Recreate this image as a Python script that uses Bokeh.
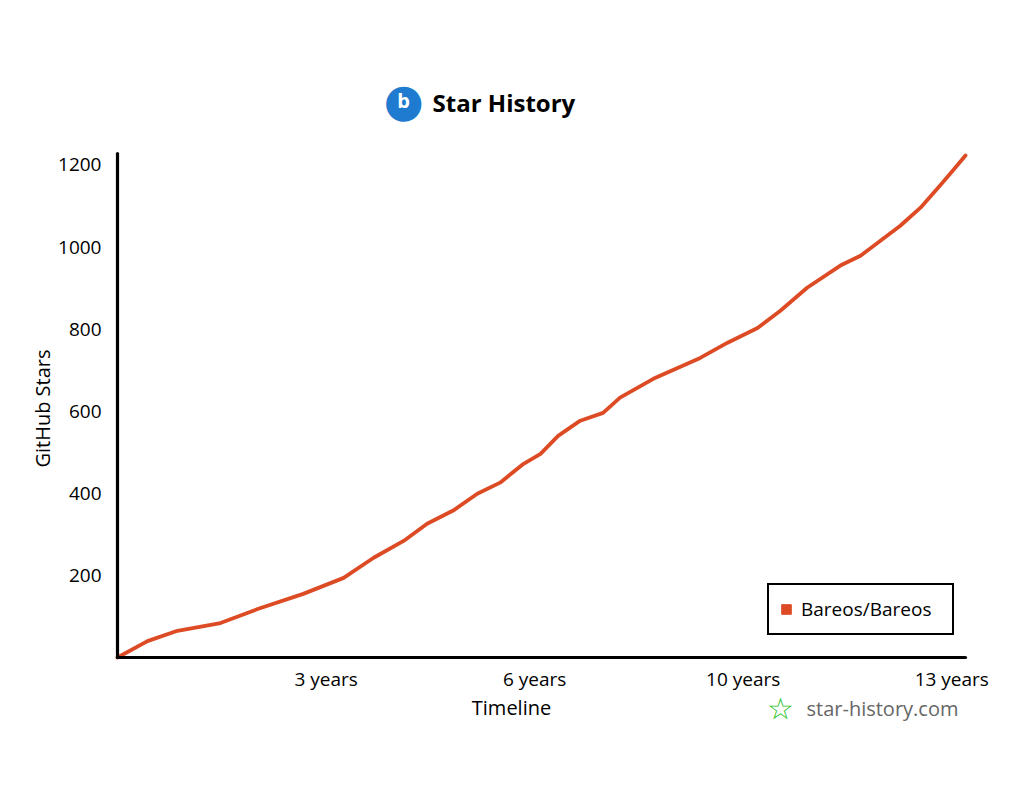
import math
from bokeh.plotting import figure
from bokeh.models import Range1d, FixedTicker, Label, Legend, LegendItem
from bokeh.embed import file_html
from bokeh.resources import INLINE

# ---- data ----
years = [0.0, 0.46, 0.92, 1.58, 2.15, 2.85, 3.47, 3.93, 4.39, 4.75, 5.15, 5.52,
         5.87, 6.23, 6.49, 6.76, 7.10, 7.45, 7.71, 8.22, 8.94, 9.36, 9.82,
         10.17, 10.58, 11.09, 11.40, 12.01, 12.32, 12.62, 12.82, 13.01]
stars = [0, 40, 65, 84, 118, 155, 194, 243, 284, 326, 358, 399,
         426, 472, 496, 540, 577, 596, 633, 679, 730, 767, 803,
         845, 901, 955, 979, 1052, 1096, 1150, 1187, 1223]
series_name = "Bareos/Bareos"
x_tick_values = [3.2, 6.4, 9.6, 12.8]
x_tick_labels = ["3 years", "6 years", "10 years", "13 years"]
y_tick_values = [200, 400, 600, 800, 1000, 1200]
x_max = 13.01
y_max = 1228

FONT = "Open Sans"
RED = "#dd4b25"

# ---- layout: the frame covers the whole canvas; the axes are pinned at 0 ----
W, H = 1016, 803
AX_L, AX_R, AX_T, AX_B = 117, 965, 153, 657      # pixel box of the axes area
sx = (AX_R - AX_L) / x_max
sy = (AX_B - AX_T) / y_max
xr = Range1d(-AX_L / sx, x_max + (W - AX_R) / sx)
yr = Range1d(-(H - AX_B) / sy, y_max + AX_T / sy)

p = figure(width=W, height=H, output_backend="svg", toolbar_location=None,
           x_range=xr, y_range=yr, min_border=0)
p.outline_line_color = None
p.xgrid.visible = False
p.ygrid.visible = False

p.line(years, stars, line_color=RED, line_width=3.8, line_cap="round", line_join="round")
proxy = p.quad(left=[float("nan")], right=[float("nan")], top=[float("nan")],
               bottom=[float("nan")], fill_color=RED, line_color=RED)

for ax in (p.xaxis[0], p.yaxis[0]):
    ax.fixed_location = 0
    ax.axis_line_width = 3.2
    ax.axis_line_color = "black"
    ax.axis_line_cap = "round"
    ax.major_tick_line_color = None
    ax.minor_tick_line_color = None
    ax.major_label_text_font = FONT
    ax.major_label_text_font_size = "19px"
    ax.major_label_text_color = "black"

p.xaxis.bounds = (0, x_max)
p.xaxis.ticker = FixedTicker(ticks=x_tick_values)
p.xaxis.major_label_overrides = {v: s for v, s in zip(x_tick_values, x_tick_labels)}
p.xaxis.major_label_standoff = 2
p.yaxis.bounds = (0, y_max)
p.yaxis.ticker = FixedTicker(ticks=y_tick_values)
p.yaxis.major_label_standoff = 10


def label(text, x, y, **kw):
    opts = dict(x=x, y=H - y, x_units="screen", y_units="screen", text=text,
                text_font=FONT, text_font_size="19px", text_align="center",
                text_baseline="middle", text_color="black")
    opts.update(kw)
    p.add_layout(Label(**opts))


# axis titles
label("GitHub Stars", 42, 408, angle=math.pi / 2, text_font_size="20px")
label("Timeline", 511, 707, text_font_size="20px")

# chart title with icon
label("●", 403, 99, text_font="DejaVu Sans", text_font_size="46px", text_color="#1f7bd0")
label("b", 403, 100, text_font_size="20px", text_font_style="bold", text_color="white")
label("Star History", 432, 102, text_font_size="24px", text_font_style="bold", text_align="left")

# watermark
label("☆", 780, 708, text_font="DejaVu Sans", text_font_size="30px",
      text_font_style="bold", text_color="#1fc21f")
label("star-history.com", 806, 708, text_font_size="20px", text_align="left", text_color="#666666")

legend = Legend(items=[LegendItem(label=series_name, renderers=[proxy])],
                location=(767, H - 635))
legend.border_line_color = "black"
legend.border_line_alpha = 1.0
legend.border_line_width = 2.5
legend.background_fill_color = "white"
legend.background_fill_alpha = 1.0
legend.label_text_font = FONT
legend.label_text_font_size = "19px"
legend.label_text_color = "black"
legend.glyph_width = 12
legend.glyph_height = 12
legend.label_standoff = 9
legend.label_width = 140
legend.padding = 11
legend.margin = 0
p.add_layout(legend)

open("out.html", "w").write(file_html(p, INLINE))
